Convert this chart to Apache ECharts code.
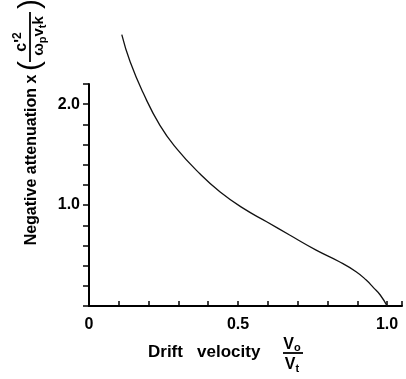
<!DOCTYPE html>
<html><head><meta charset="utf-8">
<script src="https://cdn.jsdelivr.net/npm/echarts@6/dist/echarts.min.js"></script>
<style>html,body{margin:0;padding:0;background:#fff}#c{width:406px;height:379px}</style>
</head><body><div id="c"></div>
<script>
const driftVelocity = [0.11, 0.138, 0.182, 0.238, 0.294, 0.372, 0.44, 0.518, 0.596, 0.673, 0.762, 0.84, 0.896, 0.93, 0.955, 0.977, 1.0];
const attenuation = [2.69, 2.42, 2.11, 1.79, 1.56, 1.31, 1.13, 0.967, 0.835, 0.703, 0.554, 0.439, 0.340, 0.257, 0.18, 0.109, 0.0];
const xTickLabels = {0: '0', 0.5: '0.5', 1: '1.0'};
const yTickLabels = {1: '1.0', 2: '2.0'};

const chart = echarts.init(document.getElementById('c'), null, {renderer: 'canvas'});
const F = 'Liberation Sans, Arial, sans-serif';
const rot = Math.PI / 2;
function pick(map) {
  return v => { const k = Math.round(v * 10) / 10; return map[k] !== undefined && Math.abs(v - k) < 1e-6 ? map[k] : ''; };
}
chart.setOption({
  animation: false,
  backgroundColor: '#fff',
  grid: {left: 89, right: 4, top: 84, bottom: 73},
  xAxis: {
    type: 'value', min: 0, max: 1.05, interval: 0.1,
    axisLine: {show: true, lineStyle: {color: '#000', width: 2}},
    axisTick: {show: true, inside: true, length: 5, lineStyle: {color: '#000', width: 1.5}},
    splitLine: {show: false},
    axisLabel: {color: '#000', fontFamily: F, fontWeight: 'bold', fontSize: 16, margin: 11, formatter: pick(xTickLabels)}
  },
  yAxis: {
    type: 'value', min: 0, max: 2.2, interval: 0.2,
    axisLine: {show: true, lineStyle: {color: '#000', width: 2}},
    axisTick: {show: true, inside: false, length: 6, lineStyle: {color: '#000', width: 1.5}},
    splitLine: {show: false},
    axisLabel: {color: '#000', fontFamily: F, fontWeight: 'bold', fontSize: 16, margin: 9, formatter: pick(yTickLabels)}
  },
  series: [{
    type: 'line', clip: false, smooth: 0.5, symbol: 'none',
    data: driftVelocity.map((x, i) => [x, attenuation[i]]),
    lineStyle: {color: '#111', width: 1.3}
  }],
  graphic: [
    {type: 'text', x: 32, y: 160, rotation: rot,
     style: {text: 'Negative attenuation x', font: 'bold 16px ' + F, fill: '#000', align: 'center', verticalAlign: 'middle'}},
    {type: 'text', x: 31, y: 66, rotation: rot,
     style: {text: '(', font: '30px ' + F, fill: '#000', align: 'center', verticalAlign: 'middle'}},
    {type: 'text', x: 22, y: 42, rotation: rot,
     style: {text: "c'{s|2}", font: 'bold 16px ' + F, fill: '#000', align: 'center', verticalAlign: 'middle',
       rich: {s: {font: 'bold 12px ' + F, verticalAlign: 'top', padding: [0, 0, 9, 0]}}}},
    {type: 'line', shape: {x1: 30, y1: 12, x2: 30, y2: 62}, style: {stroke: '#000', lineWidth: 1.8}},
    {type: 'text', x: 39, y: 36, rotation: rot,
     style: {text: 'ω{s|p}v{s|t}k', font: 'bold 15px ' + F, fill: '#000', align: 'center', verticalAlign: 'middle',
       rich: {s: {font: 'bold 11px ' + F, padding: [7, 0, 0, 0]}}}},
    {type: 'text', x: 31, y: 4, rotation: rot,
     style: {text: ')', font: '30px ' + F, fill: '#000', align: 'center', verticalAlign: 'middle'}},
    {type: 'text', x: 148, y: 352,
     style: {text: 'Drift   velocity', font: 'bold 17px ' + F, fill: '#000', align: 'left', verticalAlign: 'middle'}},
    {type: 'text', x: 292, y: 345,
     style: {text: 'V{s|o}', font: 'bold 16px ' + F, fill: '#000', align: 'center', verticalAlign: 'middle',
       rich: {s: {font: 'bold 11px ' + F, padding: [6, 0, 0, 0]}}}},
    {type: 'line', shape: {x1: 283, y1: 353, x2: 303, y2: 353}, style: {stroke: '#000', lineWidth: 1.8}},
    {type: 'text', x: 292, y: 365,
     style: {text: 'V{s|t}', font: 'bold 16px ' + F, fill: '#000', align: 'center', verticalAlign: 'middle',
       rich: {s: {font: 'bold 11px ' + F, padding: [7, 0, 0, 0]}}}}
  ]
});
</script></body></html>
